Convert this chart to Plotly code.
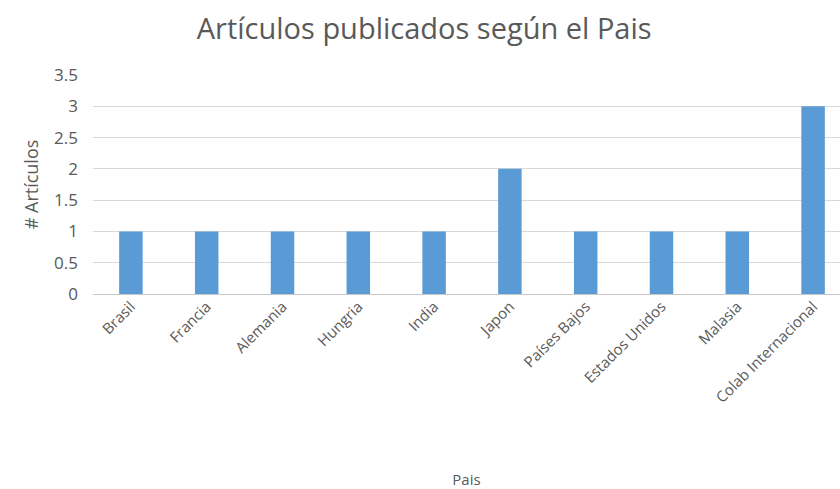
import plotly.graph_objects as go

paises = ["Brasil", "Francia", "Alemania", "Hungria", "India", "Japon",
          "Países Bajos", "Estados Unidos", "Malasia", "Colab Internacional"]
articulos = [1, 1, 1, 1, 1, 2, 1, 1, 1, 3]
y_ticks = [0, 0.5, 1, 1.5, 2, 2.5, 3, 3.5]
y_tick_text = ["0", "0.5", "1", "1.5", "2", "2.5", "3", "3.5"]

font_family = "Open Sans, Liberation Sans, sans-serif"
gray = "#595959"

fig = go.Figure(go.Bar(x=paises, y=articulos, marker_color="#5B9BD5",
                       marker_line_width=0))

fig.update_layout(
    width=840, height=489,
    paper_bgcolor="white", plot_bgcolor="white",
    margin=dict(l=93, r=0, t=75, b=195),
    bargap=0.69,
    showlegend=False,
    font=dict(family=font_family, color=gray),
    title=dict(text="Artículos publicados según el Pais", x=0.505, xanchor="center",
               y=0.94, yanchor="middle",
               font=dict(size=29, color=gray, family=font_family)),
    xaxis=dict(range=[-0.5, 9.355], tickangle=-45, tickfont=dict(size=15, color=gray),
               showgrid=False, showline=False, zeroline=False, ticks="",
               title=dict(text="Pais", font=dict(size=15, color=gray), standoff=68)),
    yaxis=dict(range=[0, 3.5], tickvals=y_ticks, ticktext=y_tick_text,
               tickfont=dict(size=17, color=gray), gridcolor="#D9D9D9", gridwidth=1,
               zeroline=True, zerolinecolor="#C8C8C8", zerolinewidth=1,
               showline=False, ticks="", ticklabelstandoff=14,
               title=dict(text="# Artículos", font=dict(size=18, color=gray), standoff=10)),
)

fig.write_html("out.html")
